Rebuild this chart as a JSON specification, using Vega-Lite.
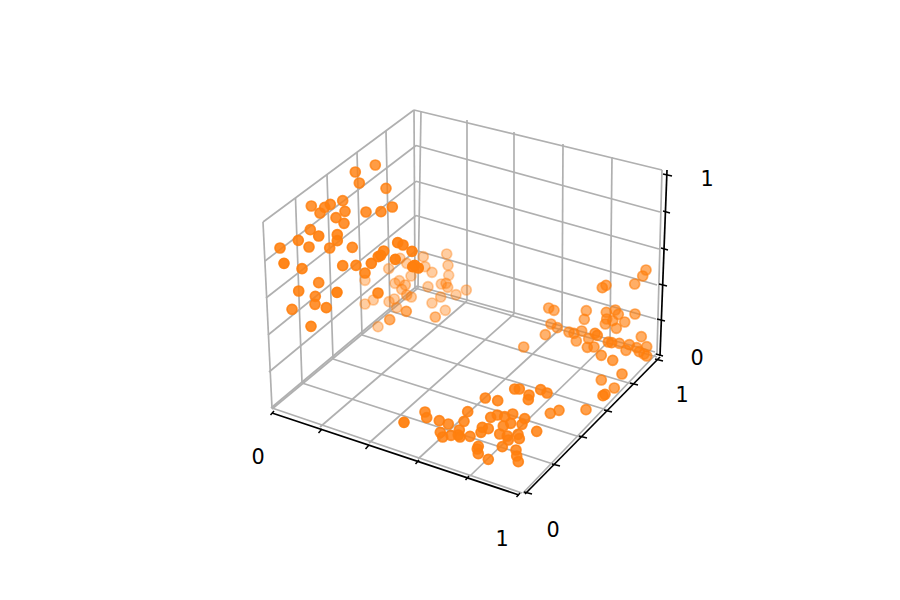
{
  "$schema": "https://vega.github.io/schema/vega-lite/v6.json",
  "width": 900,
  "height": 600,
  "padding": 0,
  "autosize": {"type": "none"},
  "background": "white",
  "view": {"stroke": null},
  "config": {"font": "DejaVu Sans"},
  "datasets": {
    "grid": [
      {"x": 271, "y": 408, "x2": 417, "y2": 286},
      {"x": 417, "y": 286, "x2": 655, "y2": 352},
      {"x": 269, "y": 372, "x2": 416, "y2": 250.5},
      {"x": 416, "y": 250.5, "x2": 656, "y2": 319},
      {"x": 268, "y": 335, "x2": 416, "y2": 215.5},
      {"x": 416, "y": 215.5, "x2": 657, "y2": 285},
      {"x": 266, "y": 298, "x2": 416, "y2": 181.3},
      {"x": 416, "y": 181.3, "x2": 659, "y2": 249},
      {"x": 265, "y": 261, "x2": 416, "y2": 145.5},
      {"x": 416, "y": 145.5, "x2": 660, "y2": 212},
      {"x": 263, "y": 222, "x2": 414, "y2": 110},
      {"x": 414, "y": 110, "x2": 662, "y2": 170},
      {"x": 272, "y": 409, "x2": 418, "y2": 288},
      {"x": 418, "y": 288, "x2": 421, "y2": 111},
      {"x": 320, "y": 427, "x2": 467, "y2": 301},
      {"x": 467, "y": 301, "x2": 467, "y2": 120},
      {"x": 369, "y": 443, "x2": 514, "y2": 314},
      {"x": 514, "y": 314, "x2": 514, "y2": 132},
      {"x": 418, "y": 459, "x2": 562, "y2": 327},
      {"x": 562, "y": 327, "x2": 563, "y2": 144},
      {"x": 470, "y": 476, "x2": 610, "y2": 340},
      {"x": 610, "y": 340, "x2": 612, "y2": 157},
      {"x": 523, "y": 493, "x2": 657, "y2": 353},
      {"x": 657, "y": 353, "x2": 662, "y2": 170},
      {"x": 522, "y": 493, "x2": 272, "y2": 408},
      {"x": 272, "y": 408, "x2": 263, "y2": 222},
      {"x": 553, "y": 464, "x2": 302, "y2": 383},
      {"x": 302, "y": 383, "x2": 295.5, "y2": 198},
      {"x": 580, "y": 437, "x2": 333, "y2": 359},
      {"x": 333, "y": 359, "x2": 327, "y2": 175},
      {"x": 607, "y": 410, "x2": 362, "y2": 335},
      {"x": 362, "y": 335, "x2": 357, "y2": 152},
      {"x": 632, "y": 384, "x2": 390, "y2": 311},
      {"x": 390, "y": 311, "x2": 386, "y2": 131},
      {"x": 657, "y": 357, "x2": 415, "y2": 288},
      {"x": 415, "y": 288, "x2": 414, "y2": 110}
    ],
    "axes": [
      {"x": 272, "y": 413, "x2": 519, "y2": 495},
      {"x": 525, "y": 494, "x2": 660, "y2": 357},
      {"x": 667, "y": 170, "x2": 660, "y2": 356}
    ],
    "ticks": [
      {"x": 274, "y": 411, "x2": 270.5, "y2": 415},
      {"x": 322, "y": 429, "x2": 318.5, "y2": 433},
      {"x": 369, "y": 445, "x2": 365.5, "y2": 449},
      {"x": 419, "y": 460, "x2": 415.5, "y2": 464},
      {"x": 469, "y": 476, "x2": 465.5, "y2": 480},
      {"x": 520, "y": 493, "x2": 516.5, "y2": 497},
      {"x": 524, "y": 492, "x2": 532, "y2": 494},
      {"x": 552, "y": 464, "x2": 560, "y2": 466},
      {"x": 579, "y": 436, "x2": 587, "y2": 438},
      {"x": 604, "y": 410, "x2": 612, "y2": 412},
      {"x": 630, "y": 383, "x2": 638, "y2": 385},
      {"x": 655, "y": 359, "x2": 663, "y2": 361},
      {"x": 663, "y": 174, "x2": 672, "y2": 176},
      {"x": 663, "y": 211, "x2": 670, "y2": 213},
      {"x": 661, "y": 248, "x2": 668, "y2": 250},
      {"x": 659, "y": 284, "x2": 667, "y2": 286},
      {"x": 657, "y": 319, "x2": 665, "y2": 321},
      {"x": 656, "y": 354, "x2": 663, "y2": 356}
    ],
    "labels": [
      {"x": 258, "y": 456, "label": "0"},
      {"x": 502, "y": 538, "label": "1"},
      {"x": 553, "y": 529, "label": "0"},
      {"x": 682, "y": 394, "label": "1"},
      {"x": 697, "y": 357, "label": "0"},
      {"x": 707, "y": 178, "label": "1"}
    ],
    "points": [
      {"x": 446.7, "y": 254, "depth": 0.2},
      {"x": 448, "y": 265.3, "depth": 0.2},
      {"x": 423.3, "y": 256.7, "depth": 0.2},
      {"x": 448.7, "y": 275.3, "depth": 0.15},
      {"x": 432, "y": 272.3, "depth": 0.2},
      {"x": 411, "y": 276, "depth": 0.2},
      {"x": 388.7, "y": 268.7, "depth": 0.2},
      {"x": 365, "y": 280.3, "depth": 0.2},
      {"x": 400, "y": 258.3, "depth": 0.2},
      {"x": 406.7, "y": 263.3, "depth": 0.2},
      {"x": 425, "y": 266.7, "depth": 0.2},
      {"x": 395, "y": 283.3, "depth": 0.2},
      {"x": 399.3, "y": 280.7, "depth": 0.2},
      {"x": 405.3, "y": 285, "depth": 0.3},
      {"x": 401.7, "y": 289.3, "depth": 0.25},
      {"x": 428, "y": 286.7, "depth": 0.2},
      {"x": 441.3, "y": 284, "depth": 0.2},
      {"x": 446, "y": 283.3, "depth": 0.25},
      {"x": 447.7, "y": 287.3, "depth": 0.25},
      {"x": 466.3, "y": 290, "depth": 0.2},
      {"x": 456, "y": 294.7, "depth": 0.2},
      {"x": 440.7, "y": 297, "depth": 0.25},
      {"x": 432, "y": 303, "depth": 0.2},
      {"x": 411.3, "y": 297, "depth": 0.25},
      {"x": 406.7, "y": 295, "depth": 0.3},
      {"x": 394.3, "y": 299, "depth": 0.2},
      {"x": 389, "y": 301.7, "depth": 0.2},
      {"x": 373.3, "y": 300, "depth": 0.2},
      {"x": 365, "y": 304, "depth": 0.2},
      {"x": 445.3, "y": 310.3, "depth": 0.2},
      {"x": 435.3, "y": 317, "depth": 0.4},
      {"x": 378, "y": 326.7, "depth": 0.2},
      {"x": 396.7, "y": 307.7, "depth": 0.2},
      {"x": 646, "y": 270, "depth": 0.55},
      {"x": 642.7, "y": 276, "depth": 0.55},
      {"x": 634.7, "y": 284, "depth": 0.55},
      {"x": 606, "y": 285.3, "depth": 0.6},
      {"x": 602.3, "y": 287.7, "depth": 0.6},
      {"x": 548.7, "y": 308, "depth": 0.5},
      {"x": 554, "y": 310.3, "depth": 0.5},
      {"x": 586.3, "y": 310.7, "depth": 0.5},
      {"x": 584.3, "y": 319.3, "depth": 0.5},
      {"x": 606.3, "y": 312.3, "depth": 0.55},
      {"x": 615.3, "y": 310, "depth": 0.55},
      {"x": 618.3, "y": 314.3, "depth": 0.55},
      {"x": 635, "y": 314, "depth": 0.55},
      {"x": 606.7, "y": 319, "depth": 0.55},
      {"x": 612.7, "y": 320.7, "depth": 0.55},
      {"x": 624.7, "y": 322, "depth": 0.55},
      {"x": 605.3, "y": 324, "depth": 0.55},
      {"x": 616.3, "y": 328.3, "depth": 0.55},
      {"x": 551, "y": 324, "depth": 0.5},
      {"x": 557.3, "y": 327.7, "depth": 0.5},
      {"x": 545.3, "y": 334.7, "depth": 0.5},
      {"x": 569, "y": 332, "depth": 0.55},
      {"x": 574, "y": 333.3, "depth": 0.55},
      {"x": 581.7, "y": 331, "depth": 0.55},
      {"x": 576.3, "y": 341, "depth": 0.55},
      {"x": 595, "y": 333.3, "depth": 0.7},
      {"x": 597.3, "y": 335.3, "depth": 0.7},
      {"x": 588.7, "y": 338.7, "depth": 0.55},
      {"x": 587.3, "y": 347.3, "depth": 0.6},
      {"x": 594, "y": 347, "depth": 0.6},
      {"x": 523.7, "y": 347, "depth": 0.5},
      {"x": 608.3, "y": 342, "depth": 0.7},
      {"x": 611.7, "y": 342.7, "depth": 0.7},
      {"x": 619.3, "y": 343.3, "depth": 0.6},
      {"x": 629.3, "y": 344.7, "depth": 0.6},
      {"x": 626, "y": 350.3, "depth": 0.6},
      {"x": 636.7, "y": 347.7, "depth": 0.6},
      {"x": 646.7, "y": 346.7, "depth": 0.55},
      {"x": 641.3, "y": 336.7, "depth": 0.55},
      {"x": 639.3, "y": 351.7, "depth": 0.6},
      {"x": 644, "y": 354, "depth": 0.6},
      {"x": 646.7, "y": 356, "depth": 0.6},
      {"x": 601.3, "y": 355.3, "depth": 0.65},
      {"x": 612.7, "y": 360.3, "depth": 0.7},
      {"x": 622, "y": 374, "depth": 0.7},
      {"x": 601.3, "y": 380, "depth": 0.65},
      {"x": 614.3, "y": 388, "depth": 0.65},
      {"x": 605, "y": 394.3, "depth": 0.8},
      {"x": 603, "y": 395.7, "depth": 0.8},
      {"x": 586, "y": 409.7, "depth": 0.7},
      {"x": 559, "y": 410.3, "depth": 0.75},
      {"x": 550.3, "y": 413.3, "depth": 0.75},
      {"x": 514.7, "y": 389, "depth": 0.85},
      {"x": 519.3, "y": 389, "depth": 0.85},
      {"x": 529, "y": 395, "depth": 0.85},
      {"x": 528.3, "y": 399.7, "depth": 0.85},
      {"x": 540.7, "y": 389.7, "depth": 0.85},
      {"x": 547, "y": 393, "depth": 0.85},
      {"x": 485.3, "y": 398, "depth": 0.85},
      {"x": 497.7, "y": 400.7, "depth": 0.85},
      {"x": 404, "y": 422.3, "depth": 1},
      {"x": 425, "y": 412, "depth": 0.85},
      {"x": 426.7, "y": 417.7, "depth": 0.85},
      {"x": 467.7, "y": 411.7, "depth": 0.85},
      {"x": 439.3, "y": 420.7, "depth": 0.85},
      {"x": 448.3, "y": 424, "depth": 0.85},
      {"x": 464, "y": 421.3, "depth": 0.85},
      {"x": 490.7, "y": 417.3, "depth": 0.85},
      {"x": 497.3, "y": 415, "depth": 0.85},
      {"x": 504.7, "y": 416.7, "depth": 0.85},
      {"x": 512.7, "y": 414, "depth": 0.85},
      {"x": 524.7, "y": 418.7, "depth": 0.85},
      {"x": 522, "y": 424.3, "depth": 0.85},
      {"x": 503.3, "y": 426, "depth": 0.85},
      {"x": 510.7, "y": 423.3, "depth": 0.85},
      {"x": 459.3, "y": 430, "depth": 0.85},
      {"x": 482.3, "y": 427.3, "depth": 0.9},
      {"x": 488.3, "y": 428.7, "depth": 0.85},
      {"x": 481, "y": 432.3, "depth": 0.9},
      {"x": 440.3, "y": 432.3, "depth": 0.85},
      {"x": 442.7, "y": 437, "depth": 0.85},
      {"x": 451, "y": 435.3, "depth": 0.85},
      {"x": 458.3, "y": 435, "depth": 0.9},
      {"x": 460, "y": 437, "depth": 0.9},
      {"x": 470, "y": 436.3, "depth": 0.85},
      {"x": 499.7, "y": 434, "depth": 0.85},
      {"x": 507.3, "y": 436, "depth": 0.85},
      {"x": 518, "y": 434.3, "depth": 0.85},
      {"x": 519.3, "y": 438.7, "depth": 0.85},
      {"x": 508.3, "y": 440, "depth": 0.85},
      {"x": 536.7, "y": 431.3, "depth": 0.85},
      {"x": 478.3, "y": 446.3, "depth": 0.85},
      {"x": 477.3, "y": 449, "depth": 0.85},
      {"x": 478.3, "y": 453.7, "depth": 0.85},
      {"x": 502.3, "y": 446.7, "depth": 0.85},
      {"x": 516, "y": 450, "depth": 0.85},
      {"x": 516.7, "y": 456, "depth": 0.85},
      {"x": 518.3, "y": 461.7, "depth": 0.85},
      {"x": 488.3, "y": 459.3, "depth": 0.85},
      {"x": 406.3, "y": 311.3, "depth": 0.55},
      {"x": 389.7, "y": 319.7, "depth": 0.55},
      {"x": 378, "y": 293, "depth": 0.9},
      {"x": 375.3, "y": 165, "depth": 0.75},
      {"x": 355.3, "y": 172, "depth": 0.8},
      {"x": 359.3, "y": 183, "depth": 0.8},
      {"x": 386, "y": 188.3, "depth": 0.75},
      {"x": 342.7, "y": 200.7, "depth": 0.8},
      {"x": 311.3, "y": 206, "depth": 0.8},
      {"x": 330.3, "y": 204.3, "depth": 0.85},
      {"x": 324.7, "y": 207.3, "depth": 0.85},
      {"x": 320, "y": 213, "depth": 0.85},
      {"x": 345, "y": 211.3, "depth": 0.85},
      {"x": 336, "y": 217.7, "depth": 0.85},
      {"x": 366, "y": 212, "depth": 0.85},
      {"x": 381, "y": 211.7, "depth": 0.85},
      {"x": 392.3, "y": 207, "depth": 0.85},
      {"x": 344, "y": 223.3, "depth": 0.85},
      {"x": 310.3, "y": 229.7, "depth": 0.85},
      {"x": 318.7, "y": 236, "depth": 0.95},
      {"x": 337.3, "y": 234.7, "depth": 0.9},
      {"x": 337.3, "y": 240.7, "depth": 0.9},
      {"x": 298.3, "y": 240.3, "depth": 0.9},
      {"x": 280, "y": 248, "depth": 0.9},
      {"x": 309, "y": 247, "depth": 0.9},
      {"x": 329.7, "y": 248, "depth": 0.85},
      {"x": 352.3, "y": 247.3, "depth": 0.85},
      {"x": 284, "y": 263.3, "depth": 1},
      {"x": 302, "y": 268.7, "depth": 0.9},
      {"x": 342.7, "y": 265.7, "depth": 0.9},
      {"x": 356, "y": 265.3, "depth": 0.9},
      {"x": 371.3, "y": 263.3, "depth": 0.95},
      {"x": 365, "y": 273, "depth": 0.9},
      {"x": 378.3, "y": 256.7, "depth": 0.95},
      {"x": 380.7, "y": 255.3, "depth": 0.95},
      {"x": 383.7, "y": 251, "depth": 0.9},
      {"x": 397.7, "y": 242.7, "depth": 0.95},
      {"x": 403, "y": 245, "depth": 0.95},
      {"x": 412, "y": 251.3, "depth": 0.95},
      {"x": 395.3, "y": 259.3, "depth": 1},
      {"x": 414.7, "y": 265.3, "depth": 1},
      {"x": 418.3, "y": 268, "depth": 1},
      {"x": 412.7, "y": 266.7, "depth": 1},
      {"x": 318.7, "y": 282.7, "depth": 0.85},
      {"x": 298.7, "y": 291, "depth": 0.9},
      {"x": 337, "y": 292.3, "depth": 1},
      {"x": 315.3, "y": 296.3, "depth": 0.85},
      {"x": 315, "y": 304.3, "depth": 0.85},
      {"x": 326.3, "y": 307.7, "depth": 0.9},
      {"x": 292, "y": 309.3, "depth": 0.85},
      {"x": 311, "y": 326.3, "depth": 0.9}
    ]
  },
  "layer": [
    {
      "data": {"name": "grid"},
      "mark": {"type": "rule", "color": "#b0b0b0", "strokeWidth": 1.7},
      "encoding": {
        "x": {"field": "x", "type": "quantitative", "scale": {"domain": [0, 900], "nice": false, "zero": false}, "axis": null},
        "y": {"field": "y", "type": "quantitative", "scale": {"domain": [600, 0], "nice": false, "zero": false}, "axis": null},
        "x2": {"field": "x2"},
        "y2": {"field": "y2"}
      }
    },
    {
      "data": {"name": "axes"},
      "mark": {"type": "rule", "color": "black", "strokeWidth": 1.7},
      "encoding": {
        "x": {"field": "x", "type": "quantitative"},
        "y": {"field": "y", "type": "quantitative"},
        "x2": {"field": "x2"},
        "y2": {"field": "y2"}
      }
    },
    {
      "data": {"name": "ticks"},
      "mark": {"type": "rule", "color": "black", "strokeWidth": 1.5},
      "encoding": {
        "x": {"field": "x", "type": "quantitative"},
        "y": {"field": "y", "type": "quantitative"},
        "x2": {"field": "x2"},
        "y2": {"field": "y2"}
      }
    },
    {
      "data": {"name": "points"},
      "mark": {"type": "point", "shape": "circle", "filled": false, "size": 100, "fill": "#ff7f0e", "stroke": "#ff7f0e", "strokeWidth": 1.7, "opacity": 1},
      "encoding": {
        "x": {"field": "x", "type": "quantitative"},
        "y": {"field": "y", "type": "quantitative"},
        "fillOpacity": {"field": "depth", "type": "quantitative", "scale": {"domain": [0, 1], "range": [0.25, 0.95]}, "legend": null},
        "strokeOpacity": {"field": "depth", "type": "quantitative", "scale": {"domain": [0, 1], "range": [0.25, 0.95]}, "legend": null}
      }
    },
    {
      "data": {"name": "labels"},
      "mark": {"type": "text", "font": "DejaVu Sans", "fontSize": 20.8, "color": "black", "align": "center", "baseline": "middle", "dy": 1.5},
      "encoding": {
        "x": {"field": "x", "type": "quantitative"},
        "y": {"field": "y", "type": "quantitative"},
        "text": {"field": "label", "type": "nominal"}
      }
    }
  ]
}
